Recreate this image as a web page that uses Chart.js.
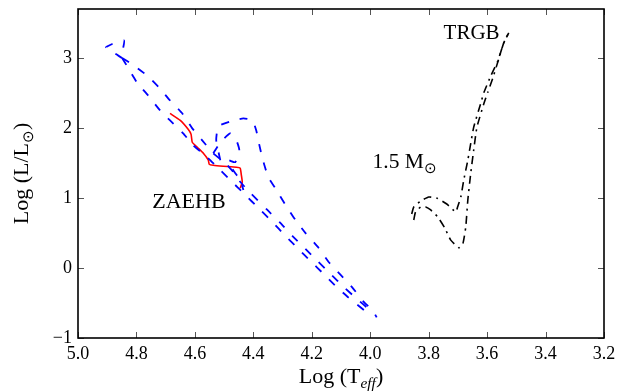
<!DOCTYPE html>
<html>
<head>
<meta charset="utf-8">
<script src="https://cdn.jsdelivr.net/npm/chart.js@4/dist/chart.umd.min.js"></script>
<style>
  html, body { margin: 0; padding: 0; background: #fff; }
  #wrap { width: 627px; height: 391px; }
</style>
</head>
<body>
<div id="wrap"><canvas id="c" width="627" height="391"></canvas></div>
<script>
// ---- Tick values ----
const xTicks = [5.0, 4.8, 4.6, 4.4, 4.2, 4.0, 3.8, 3.6, 3.4, 3.2];
const yTicks = [-1, 0, 1, 2, 3];

// ---- Blue dashed track (x = Log Teff, y = Log L/Lsun) ----
const blueTriangle = [[4.849,3.00],[4.904,3.15],[4.883,3.20],[4.842,3.25],[4.846,3.13],[4.849,3.00]];
const blueUpper = [[4.849,3.00],[4.818,2.919],[4.763,2.748],[4.719,2.563],[4.685,2.393],[4.643,2.208],[4.609,1.995],[4.575,1.824],[4.537,1.639],[4.496,1.499],[4.469,1.373],[4.445,1.232],[4.410,1.071],[4.352,0.829],[4.311,0.658],[4.266,0.457],[4.222,0.273],[4.181,0.102],[4.136,-0.083],[4.088,-0.282],[4.050,-0.424],[3.999,-0.609]];
const blueLower = [[4.849,3.00],[4.829,2.862],[4.798,2.649],[4.760,2.464],[4.719,2.251],[4.685,2.108],[4.640,1.924],[4.606,1.753],[4.558,1.582],[4.513,1.397],[4.472,1.227],[4.434,1.071],[4.376,0.829],[4.335,0.658],[4.290,0.457],[4.246,0.273],[4.205,0.102],[4.160,-0.083],[4.112,-0.282],[4.074,-0.424],[4.019,-0.609]];
const blueLoop = [[4.513,1.540],[4.527,1.824],[4.520,2.023],[4.479,2.094],[4.434,2.137],[4.403,2.108],[4.390,1.966],[4.383,1.824],[4.369,1.568],[4.349,1.298],[4.325,1.142],[4.290,0.900],[4.256,0.687],[4.222,0.502],[4.177,0.289],[4.143,0.090],[4.102,-0.095],[4.061,-0.280],[4.023,-0.479],[3.989,-0.621],[3.978,-0.706]];
const blueWiggle = [[4.537,1.639],[4.513,1.795],[4.479,1.923],[4.458,1.824],[4.448,1.682],[4.462,1.511],[4.486,1.540],[4.469,1.398],[4.445,1.255],[4.434,1.113]];

// ---- Red solid track ----
const redTrack = [[4.685,2.208],[4.650,2.108],[4.623,1.981],[4.613,1.909],[4.609,1.796],[4.592,1.725],[4.571,1.639],[4.554,1.540],[4.551,1.483],[4.537,1.468],[4.503,1.454],[4.458,1.440],[4.445,1.426],[4.441,1.326],[4.438,1.227],[4.445,1.141]];

// ---- Black dash-dot tracks (1.5 Msun) ----
const blackTrack1 = [[3.858,0.772],[3.851,0.872],[3.827,0.957],[3.800,1.014],[3.773,1.000],[3.738,0.914],[3.707,0.800],[3.701,0.872],[3.690,1.014],[3.680,1.256],[3.666,1.540],[3.656,1.781],[3.646,2.009],[3.622,2.350],[3.611,2.507],[3.587,2.748],[3.563,2.962],[3.543,3.218],[3.526,3.360]];
const blackTrack2 = [[3.851,0.686],[3.845,0.800],[3.827,0.872],[3.810,0.872],[3.793,0.829],[3.769,0.729],[3.745,0.573],[3.725,0.402],[3.697,0.289],[3.683,0.346],[3.673,0.587],[3.666,0.971],[3.656,1.355],[3.646,1.682],[3.635,2.009],[3.611,2.350],[3.598,2.507],[3.581,2.706],[3.560,2.990],[3.543,3.218],[3.526,3.360]];

// ---- Annotations ----
const labelTRGB = {text: 'TRGB', x: 3.749, y: 3.27};
const labelMass = {text: '1.5 M', sub: '\u2299', x: 3.992, y: 1.43};
const labelZAEHB = {text: 'ZAEHB', x: 4.746, y: 0.86};

const SERIF = "'Liberation Serif', serif";
Chart.defaults.font.family = SERIF;
const toXY = arr => arr.map(p => ({x: p[0], y: p[1]}));

function ds(arr, color, dash, width) {
  return {
    data: toXY(arr), showLine: true, borderColor: color, borderWidth: width,
    borderDash: dash, pointRadius: 0, fill: false, tension: 0.15
  };
}

const datasets = [
  ds(blueTriangle, '#0000ff', [8, 11], 1.8),
  ds(blueUpper, '#0000ff', [8, 11], 1.8),
  ds(blueLower, '#0000ff', [8, 11], 1.8),
  ds(blueLoop, '#0000ff', [8, 11], 1.8),
  ds(blueWiggle, '#0000ff', [8, 11], 1.8),
  ds(blackTrack1, '#000000', [8, 5, 2, 5], 1.6),
  ds(blackTrack2, '#000000', [8, 5, 2, 5], 1.6),
  ds(redTrack, '#ff0000', [], 1.6)
];

function drawRich(ctx, parts, x, y, size, align) {
  const fontFor = p => (p.italic ? 'italic ' : '') + (p.sub ? size * 0.7 : size) + 'px ' + SERIF;
  const total = parts.reduce((a, p) => { ctx.font = fontFor(p); return a + ctx.measureText(p.t).width; }, 0);
  let cx = align === 'center' ? x - total / 2 : x;
  parts.forEach(p => {
    ctx.font = fontFor(p);
    ctx.fillText(p.t, cx, p.sub ? y + size * 0.22 : y);
    cx += ctx.measureText(p.t).width;
  });
}

const decor = {
  id: 'decor',
  afterDraw(chart) {
    const {ctx, chartArea: a, scales: {x, y}} = chart;
    ctx.save();
    ctx.strokeStyle = '#555';
    ctx.lineWidth = 1;
    ctx.beginPath();
    xTicks.forEach(v => {
      const p = Math.round(x.getPixelForValue(v)) + 0.5;
      ctx.moveTo(p, a.bottom); ctx.lineTo(p, a.bottom - 6);
      ctx.moveTo(p, a.top); ctx.lineTo(p, a.top + 6);
    });
    yTicks.forEach(v => {
      const p = Math.round(y.getPixelForValue(v)) + 0.5;
      ctx.moveTo(a.left, p); ctx.lineTo(a.left + 6, p);
      ctx.moveTo(a.right, p); ctx.lineTo(a.right - 6, p);
    });
    ctx.stroke();
    ctx.strokeStyle = '#000';
    ctx.lineWidth = 1.6;
    ctx.strokeRect(a.left, a.top, a.right - a.left, a.bottom - a.top);

    ctx.fillStyle = '#000';
    ctx.textBaseline = 'alphabetic';
    ctx.textAlign = 'left';
    drawRich(ctx, [{t: labelTRGB.text}], x.getPixelForValue(labelTRGB.x), y.getPixelForValue(labelTRGB.y), 21, 'left');
    drawRich(ctx, [{t: labelZAEHB.text}], x.getPixelForValue(labelZAEHB.x), y.getPixelForValue(labelZAEHB.y), 22, 'left');
    drawRich(ctx, [{t: labelMass.text}, {t: labelMass.sub, sub: true}],
      x.getPixelForValue(labelMass.x), y.getPixelForValue(labelMass.y), 21.5, 'left');

    drawRich(ctx, [{t: 'Log (T'}, {t: 'eff', sub: true, italic: true}, {t: ')'}],
      (a.left + a.right) / 2, 383, 22, 'center');
    ctx.translate(28, (a.top + a.bottom) / 2);
    ctx.rotate(-Math.PI / 2);
    drawRich(ctx, [{t: 'Log (L/L'}, {t: '\u2299', sub: true}, {t: ')'}], 0, 0, 22, 'center');
    ctx.restore();
  }
};

new Chart(document.getElementById('c'), {
  type: 'scatter',
  data: {datasets},
  options: {
    responsive: false,
    animation: false,
    events: [],
    layout: {padding: {top: 9, right: 23, left: 0, bottom: 0}},
    plugins: {legend: {display: false}, tooltip: {enabled: false}},
    scales: {
      x: {
        type: 'linear', min: 3.2, max: 5.0, reverse: true,
        afterBuildTicks: s => { s.ticks = xTicks.map(v => ({value: v})); },
        afterFit: s => { s.height = 53; s.paddingLeft = 0; s.paddingRight = 0; },
        grid: {display: false, drawTicks: false},
        border: {display: false},
        ticks: {
          padding: 5, color: '#000', maxRotation: 0, autoSkip: false,
          font: {family: SERIF, size: 18},
          callback: v => Number(v).toFixed(1)
        }
      },
      y: {
        type: 'linear', min: -1, max: 3.7,
        afterBuildTicks: s => { s.ticks = yTicks.map(v => ({value: v})); },
        afterFit: s => { s.width = 78; s.paddingTop = 0; s.paddingBottom = 0; },
        grid: {display: false, drawTicks: false},
        border: {display: false},
        ticks: {
          padding: 6, color: '#000', autoSkip: false,
          font: {family: SERIF, size: 18},
          callback: v => (v < 0 ? '\u2212' + Math.abs(v) : String(v))
        }
      }
    }
  },
  plugins: [decor]
});
</script>
</body>
</html>
